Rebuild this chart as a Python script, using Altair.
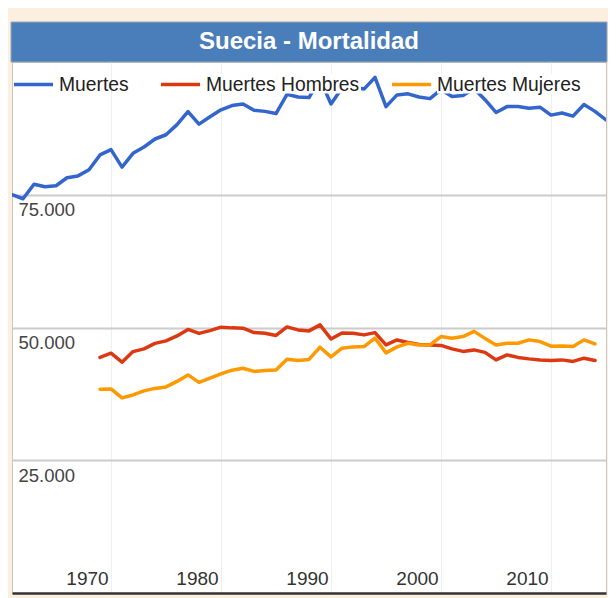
import altair as alt
import pandas as pd

title_text = "Suecia - Mortalidad"
series_names = ["Muertes", "Muertes Hombres", "Muertes Mujeres"]
series_colors = ["#3366cc", "#dc3912", "#ff9900"]
x_ticks = [1970, 1980, 1990, 2000, 2010]
y_ticks = [25000, 50000, 75000]

years_total = list(range(1961, 2016))
muertes = [
    75000, 74250, 76970, 76500, 76700, 78200, 78550, 79700, 82500, 83500,
    80200, 82800, 84000, 85500, 86300, 88200, 90650, 88300, 89700, 91000,
    91800, 92100, 90900, 90700, 90300, 93900, 93400, 93300, 96800, 92100,
    95100, 95300, 94900, 97100, 91600, 93800, 94000, 93400, 93100, 94800,
    93500, 93700, 95000, 92900, 90500, 91600, 91600, 91300, 91500, 90000,
    90400, 89800, 92000, 90700, 89100,
]

years_sex = list(range(1969, 2015))
hombres = [
    44370, 45160, 43460, 45460, 45970, 47010, 47480, 48420, 49640, 48890,
    49420, 50060, 49930, 49870, 49040, 48930, 48510, 50110, 49550, 49360,
    50490, 47850, 48980, 48930, 48610, 49040, 46720, 47660, 47190, 46820,
    46720, 46630, 45970, 45500, 45780, 45310, 43900, 44840, 44370, 44090,
    43900, 43800, 43900, 43610, 44220, 43770,
]
mujeres = [
    38380, 38430, 36740, 37300, 38060, 38530, 38810, 39850, 41070, 39660,
    40450, 41260, 41960, 42330, 41730, 41880, 42010, 44030, 43800, 43990,
    46290, 44460, 46100, 46350, 46400, 47990, 45220, 46350, 47040, 46720,
    46720, 48290, 47990, 48290, 49270, 47950, 46720, 47040, 47040, 47670,
    47350, 46480, 46530, 46400, 47670, 46910,
]

rows = []
for yr, v in zip(years_total, muertes):
    rows.append({"year": yr, "value": v, "serie": series_names[0]})
for yr, v in zip(years_sex, hombres):
    rows.append({"year": yr, "value": v, "serie": series_names[1]})
for yr, v in zip(years_sex, mujeres):
    rows.append({"year": yr, "value": v, "serie": series_names[2]})
df = pd.DataFrame(rows)

W, H = 594, 531
FONT = "Liberation Sans"

lines = alt.Chart(df).mark_line(strokeWidth=3.5, strokeJoin="round", strokeCap="round", clip=True).encode(
    x=alt.X(
        "year:Q",
        scale=alt.Scale(domain=[1961, 2015], nice=False, zero=False),
        axis=alt.Axis(
            values=x_ticks, format="d", title=None,
            labelOffset=-24, labelPadding=-14.5, labelBaseline="middle",
            ticks=False, tickSize=0, domain=True, domainColor="#333333",
            domainWidth=2.5, grid=True, gridColor="#efefef", gridWidth=1,
            labelFontSize=19, labelColor="#333333", labelFont=FONT,
            labelFlush=False, labelOverlap=False, labelBound=False,
        ),
    ),
    y=alt.Y(
        "value:Q",
        scale=alt.Scale(domain=[0, 100000], nice=False),
        axis=alt.Axis(
            values=y_ticks, title=None,
            labelExpr="replace(format(datum.value, ','), ',', '.')",
            labelAlign="left", labelBaseline="middle", labelPadding=-6,
            labelOffset=15, ticks=False, tickSize=0, domain=False,
            grid=True, gridColor="#cccccc", gridWidth=2,
            labelFontSize=18.5, labelColor="#444444", labelFont=FONT,
            labelFlush=False, labelOverlap=False,
        ),
    ),
    color=alt.Color(
        "serie:N",
        scale=alt.Scale(domain=series_names, range=series_colors),
        legend=alt.Legend(
            orient="none", legendX=0, legendY=1, direction="horizontal",
            title=None, symbolType="stroke", symbolSize=1521,
            symbolStrokeWidth=3.5, labelFontSize=19.3, labelFont=FONT,
            labelColor="#222222", labelOffset=4, columnPadding=25,
            padding=0, labelLimit=400,
        ),
    ),
)

one = pd.DataFrame({"t": [title_text]})

title_bar = alt.Chart(one).mark_rect(fill="#4a7ebb", stroke="#9aa6b2", strokeWidth=1).encode(
    x=alt.value(-1), x2=alt.value(W + 1), y=alt.value(-40), y2=alt.value(0)
)
title_txt = alt.Chart(one).mark_text(
    fontSize=24, fontWeight="bold", color="white", font=FONT,
    align="center", baseline="middle",
).encode(text="t:N", x=alt.value(W / 2), y=alt.value(-20))

mask1 = alt.Chart(one).mark_rect(fill="white").encode(
    x=alt.value(193), x2=alt.value(349), y=alt.value(12), y2=alt.value(31.5)
)
mask2 = alt.Chart(one).mark_rect(fill="white").encode(
    x=alt.value(425), x2=alt.value(572), y=alt.value(12), y2=alt.value(31.5)
)

chart = alt.layer(title_bar, title_txt, lines, mask1, mask2).properties(
    width=W, height=H,
    autosize=alt.AutoSizeParams(type="none"),
    padding={"left": 4, "top": 54, "right": 2, "bottom": 5},
    background="#fcefdf",
).configure_view(
    fill="white", stroke="#c8c8c8", strokeWidth=1
)

chart.save("out.html", embed_options={"renderer": "svg", "actions": False})
